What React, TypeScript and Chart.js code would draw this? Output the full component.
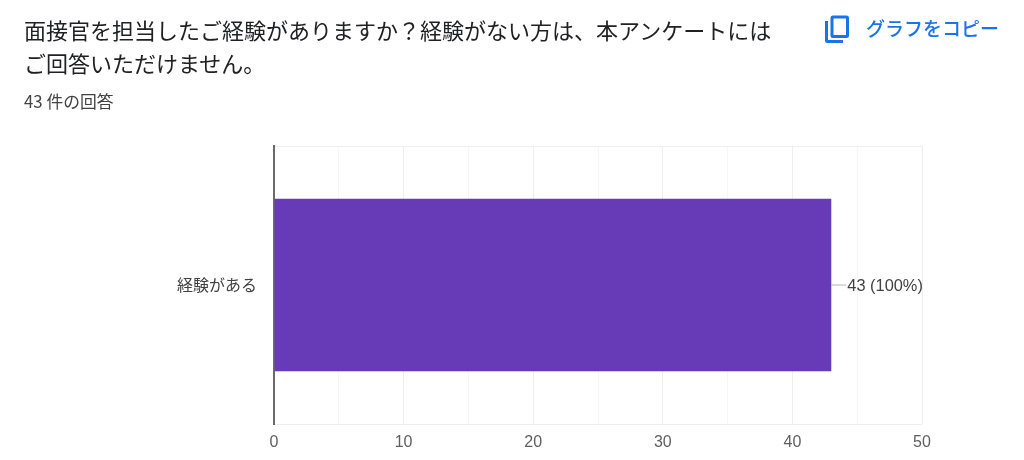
import React, { useEffect, useRef } from "react";
import { Chart, registerables } from "chart.js";

Chart.register(...registerables);

const categories = ["経験がある"];
const counts = [43];
const percents = ["100%"];
const xTicks = [0, 10, 20, 30, 40, 50];

const JP_FONT = '"Noto Sans CJK JP", sans-serif';
const AXIS_FONT = '"Liberation Sans", "Noto Sans CJK JP", sans-serif';

// 棒の右側に引き出し線付きのラベルを描く
const leaderLabels = {
  id: "leaderLabels",
  afterDatasetsDraw(chart: any) {
    const { ctx } = chart;
    const x = chart.scales.x;
    const y = chart.scales.y;
    ctx.save();
    counts.forEach((v, i) => {
      const px = x.getPixelForValue(v);
      const py = y.getPixelForValue(i);
      ctx.strokeStyle = "#b5b5b5";
      ctx.lineWidth = 1;
      ctx.beginPath();
      ctx.moveTo(px, py);
      ctx.lineTo(px + 15, py);
      ctx.stroke();
      ctx.fillStyle = "#424242";
      ctx.font = `16.4px ${AXIS_FONT}`;
      ctx.textAlign = "left";
      ctx.textBaseline = "middle";
      ctx.fillText(`${v} (${percents[i]})`, px + 16, py + 1);
    });
    ctx.restore();
  },
};

export default function App() {
  const chartRef = useRef<HTMLCanvasElement>(null);

  useEffect(() => {
    if (!chartRef.current) return;
    const chart = new Chart(chartRef.current, {
      type: "bar",
      plugins: [leaderLabels],
      data: {
        labels: categories,
        datasets: [
          {
            data: counts,
            backgroundColor: "#673ab7",
            barPercentage: 0.62,
            categoryPercentage: 1,
          },
        ],
      },
      options: {
        indexAxis: "y",
        responsive: false,
        animation: false,
        layout: { padding: { top: 146, right: 102, bottom: 0, left: 0 } },
        plugins: { legend: { display: false }, tooltip: { enabled: false } },
        scales: {
          x: {
            min: 0,
            max: 50,
            afterBuildTicks: (axis: any) => {
              const all: { value: number }[] = [];
              xTicks.forEach((t, i) => {
                all.push({ value: t });
                if (i < xTicks.length - 1) all.push({ value: t + 5 });
              });
              axis.ticks = all;
            },
            grid: {
              color: (c: any) => (c.tick.value % 10 === 0 ? "#eeeeee" : "#f6f6f6"),
              lineWidth: 1,
              drawTicks: false,
            },
            border: { display: false },
            ticks: {
              autoSkip: false,
              maxRotation: 0,
              padding: 9,
              color: "#5f5f5f",
              font: { family: AXIS_FONT, size: 16 },
              callback: (v: any) => (Number(v) % 10 === 0 ? String(v) : ""),
            },
            afterFit: (axis: any) => {
              axis.height = 36;
            },
          },
          y: {
            grid: { display: true, color: "#eeeeee", drawTicks: false, offset: true },
            border: { display: true, color: "#6b6b6b", width: 2 },
            ticks: {
              padding: 17,
              color: "#424242",
              font: { family: JP_FONT, size: 16 },
            },
            afterFit: (axis: any) => {
              axis.width = 274;
            },
          },
        },
      },
    });
    return () => chart.destroy();
  }, []);

  return (
    <div style={{ position: "absolute", left: 0, top: 0, width: 1024, height: 460, background: "#fff", overflow: "hidden", fontFamily: JP_FONT }}>
      <canvas ref={chartRef} width={1024} height={460} style={{ position: "absolute", left: 0, top: 0 }} />
      <div style={{ position: "absolute", left: 24, top: 13, width: 770, fontSize: 22, lineHeight: "33px", color: "#202124" }}>
        面接官を担当したご経験がありますか{"\uFF1F"}経験がない方は、本アンケートには
        <br />
        ご回答いただけません。
      </div>
      <div style={{ position: "absolute", left: 24, top: 91, fontSize: 16.8, lineHeight: "20px", color: "#424242" }}>43 件の回答</div>
      <svg style={{ position: "absolute", left: 825, top: 15 }} width="24" height="28" viewBox="0 0 24 28">
        <path d="M1.5 6v19.5a1 1 0 0 0 1 1H18" fill="none" stroke="#1a73e8" strokeWidth="3" />
        <rect x="7" y="2" width="15.5" height="19.5" rx="1" fill="none" stroke="#1a73e8" strokeWidth="3" />
      </svg>
      <div style={{ position: "absolute", left: 866, top: 14, fontSize: 19, lineHeight: "28px", fontWeight: 500, color: "#1a73e8", whiteSpace: "nowrap" }}>グラフをコピー</div>
    </div>
  );
}
